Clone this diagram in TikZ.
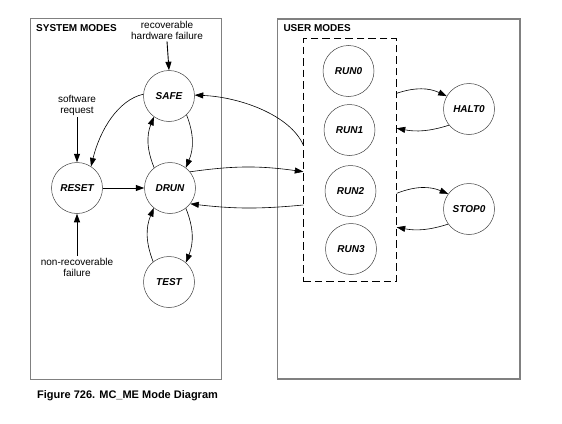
\documentclass[tikz,border=0pt]{standalone}
\usepackage{fontspec}
\setmainfont{Liberation Sans}
\usetikzlibrary{arrows.meta}
\begin{document}
\begin{tikzpicture}[x=1pt,y=-1pt,
  st/.style={circle,draw=black!75,line width=0.5pt,minimum size=51pt,inner sep=0pt,font=\fontsize{10}{12}\selectfont\bfseries\itshape},
  cn/.style={draw=black,line width=0.6pt,-{Triangle[length=8.5pt,width=6pt]}},
  cs/.style={cn,line width=0.9pt},
  lab/.style={font=\fontsize{10}{11}\selectfont,align=center,inner sep=1.5pt},
  ttl/.style={font=\fontsize{10}{12}\selectfont\bfseries,anchor=west,inner sep=0pt},
  frame/.style={draw=black!50,line width=1pt}]
\useasboundingbox (0,0) rectangle (562,423);
\fill[white] (0,0) rectangle (562,423);
% frames
\draw[frame] (30.7,18.3) rectangle (221.5,379.3);
\draw[frame,line width=1.5pt] (277.5,19) rectangle (520,379);
\node[ttl] (tsys) at (36,28.3) {SYSTEM MODES};
\node[ttl] (tusr) at (283.3,28.3) {USER MODES};
% dashed user box
\node[draw=black,line width=1pt,dash pattern=on 7.5pt off 4pt,minimum width=93.4pt,minimum height=242.3pt,inner sep=0pt] (ubox) at (350,159.85) {};
% states
\node[st] (SAFE) at (169,96) {SAFE};
\node[st] (RESET) at (77,188) {RESET};
\node[st] (DRUN) at (170,188) {DRUN};
\node[st] (TEST) at (169,282) {TEST};
\node[st] (RUN0) at (348.5,71) {RUN0};
\node[st] (RUN1) at (349.5,130) {RUN1};
\node[st] (RUN2) at (350.5,191) {RUN2};
\node[st] (RUN3) at (351,249) {RUN3};
\node[st] (HALT0) at (469,109) {HALT0};
\node[st] (STOP0) at (469,209) {STOP0};
% labels
\node[lab] (rhf) at (167,30.5) {recoverable\\hardware failure};
\node[lab] (swr) at (77,105.5) {software\\request};
\node[lab] (nrf) at (77,267) {non-recoverable\\failure};
% box coordinates
\coordinate (bA) at (303.3,145);
\coordinate (bB) at (303.3,171.7);
\coordinate (bC) at (303.3,205);
\coordinate (bD) at (396.7,93.3);
\coordinate (bE) at (396.7,128.3);
\coordinate (bF) at (396.7,193.3);
\coordinate (bG) at (396.7,227.3);
% connectors
\draw[cs] (rhf.south) -- (SAFE.north);
\draw[cs] (swr.south) -- (RESET.north);
\draw[cs] (nrf.north) -- (RESET.south);
\draw[cs] (RESET.east) -- (DRUN.west);
\draw[cn] (SAFE.176) .. controls (118,100) and (100,130) .. (RESET.57);
\draw[cn] (SAFE.-47) to[bend left=22] (DRUN.52);
\draw[cn] (DRUN.128) to[bend left=22] (SAFE.-126);
\draw[cn] (DRUN.-52) to[bend left=22] (TEST.49);
\draw[cn] (TEST.128) to[bend left=22] (DRUN.-129);
\draw[cn] (bA) .. controls (290,115) and (240,97) .. (SAFE.2);
\draw[cn] (DRUN.39) to[bend left=8] (bB);
\draw[cn] (bC) to[bend left=6] (DRUN.-38);
\draw[cn] (bD) to[bend left=22] (HALT0.150);
\draw[cn] (HALT0.-141) to[bend left=14] (bE);
\draw[cn] (bF) to[bend left=22] (STOP0.144);
\draw[cn] (STOP0.-144) to[bend left=14] (bG);
% caption
\node[font=\fontsize{11}{13}\selectfont\bfseries,anchor=base west,inner sep=0pt] (cap) at (37,398) {Figure 726. MC\_ME Mode Diagram};
\end{tikzpicture}
\end{document}
